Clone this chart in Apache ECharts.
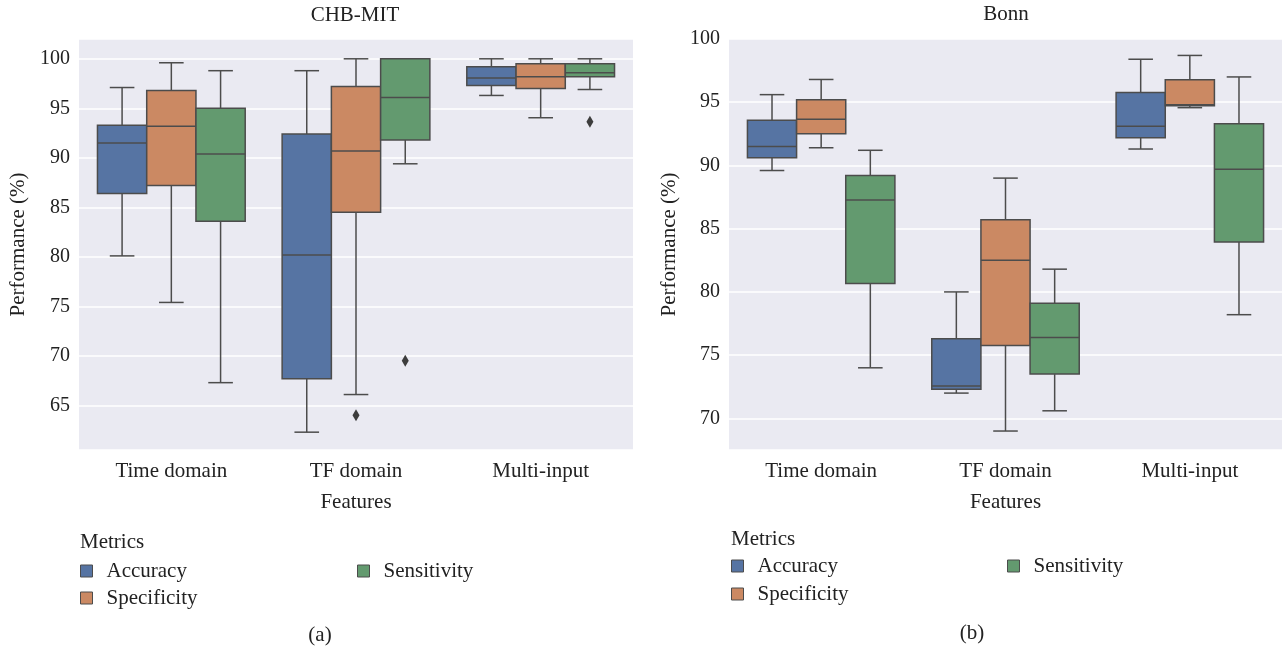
<!DOCTYPE html>
<html>
<head>
<meta charset="utf-8">
<script src="https://cdn.jsdelivr.net/npm/echarts@6/dist/echarts.min.js"></script>
<style>
  html, body { margin: 0; padding: 0; background: #fff; }
  #main { width: 1283px; height: 656px; }
</style>
</head>
<body>
<div id="main"></div>
<script>
const categories = ['Time domain', 'TF domain', 'Multi-input']
const metrics = ['Accuracy', 'Specificity', 'Sensitivity']
const colors = ['#5674a3', '#cb8963', '#639a6f']

// [lower whisker, Q1, median, Q3, upper whisker] for each category
const chbAccuracy = [[80.1, 86.4, 91.5, 93.3, 97.1], [62.3, 67.7, 80.2, 92.4, 98.8], [96.3, 97.3, 98.05, 99.2, 100]]
const chbSpecificity = [[75.4, 87.2, 93.2, 96.8, 99.6], [66.1, 84.5, 90.7, 97.2, 100], [94.05, 97.0, 98.2, 99.5, 100]]
const chbSensitivity = [[67.3, 83.6, 90.4, 95.0, 98.8], [89.4, 91.8, 96.1, 100, 100], [96.9, 98.2, 98.6, 99.5, 100]]
// [category index, value]
const chbAccuracyOut = []
const chbSpecificityOut = [[1, 64.0]]
const chbSensitivityOut = [[1, 69.5], [2, 93.65]]

const bonnAccuracy = [[89.6, 90.6, 91.5, 93.57, 95.6], [72.0, 72.3, 72.56, 76.3, 80.0], [91.3, 92.2, 93.1, 95.76, 98.4]]
const bonnSpecificity = [[91.4, 92.5, 93.65, 95.2, 96.8], [69.0, 75.76, 82.5, 85.7, 89.0], [94.57, 94.73, 94.8, 96.77, 98.7]]
const bonnSensitivity = [[74.0, 80.67, 87.26, 89.2, 91.2], [70.6, 73.5, 76.4, 79.1, 81.8], [78.2, 83.94, 89.7, 93.3, 97.0]]

const font = 'Liberation Serif'
const ink = '#222'
const edge = '#4c4c4c'

const chart = echarts.init(document.getElementById('main'))

// seaborn style: 3 boxes share 80% of the band
function boxRenderer (m) {
  return function (params, api) {
    const cat = api.value(0)
    const w = api.size([1, 0])[0] * 0.8 / 3
    const cx = api.coord([cat, 0])[0] + (m - 1) * w
    const y = i => api.coord([cat, api.value(i)])[1]
    const lo = y(1), q1 = y(2), med = y(3), q3 = y(4), hi = y(5)
    const line = (x1, y1, x2, y2) => ({
      type: 'line', shape: { x1, y1, x2, y2 }, style: { stroke: edge, lineWidth: 1.5 }
    })
    return {
      type: 'group',
      children: [
        line(cx, q1, cx, lo),
        line(cx, q3, cx, hi),
        line(cx - w / 4, lo, cx + w / 4, lo),
        line(cx - w / 4, hi, cx + w / 4, hi),
        { type: 'rect', shape: { x: cx - w / 2, y: q3, width: w, height: q1 - q3 },
          style: { fill: colors[m], stroke: edge, lineWidth: 1.5 } },
        line(cx - w / 2, med, cx + w / 2, med)
      ]
    }
  }
}

function outlierRenderer (m) {
  return function (params, api) {
    const w = api.size([1, 0])[0] * 0.8 / 3
    const p = api.coord([api.value(0), api.value(1)])
    const cx = p[0] + (m - 1) * w
    const cy = p[1]
    return {
      type: 'polygon',
      shape: { points: [[cx, cy - 6], [cx + 3.5, cy], [cx, cy + 6], [cx - 3.5, cy]] },
      style: { fill: '#3d3d3d' }
    }
  }
}

function boxSeries (m, rows, gi) {
  return {
    type: 'custom',
    name: metrics[m],
    xAxisIndex: gi,
    yAxisIndex: gi,
    itemStyle: { color: colors[m] },
    renderItem: boxRenderer(m),
    encode: { x: 0, y: [1, 2, 3, 4, 5] },
    data: rows.map((r, i) => [i].concat(r))
  }
}

function outlierSeries (m, pts, gi) {
  return {
    type: 'custom',
    name: metrics[m],
    xAxisIndex: gi,
    yAxisIndex: gi,
    itemStyle: { color: colors[m] },
    renderItem: outlierRenderer(m),
    encode: { x: 0, y: 1 },
    data: pts
  }
}

const textBase = { fontFamily: font, fontSize: 21, color: ink, fontWeight: 'normal' }
const tickText = { fontFamily: font, fontSize: 20, color: ink }

function xAxis (gi) {
  return {
    type: 'category',
    gridIndex: gi,
    data: categories,
    axisLine: { show: false },
    axisTick: { show: false },
    axisLabel: Object.assign({ margin: 11 }, textBase),
    name: 'Features',
    nameLocation: 'middle',
    nameGap: 42,
    nameTextStyle: textBase
  }
}

function yAxis (gi, min, max, split, gap, showMax) {
  return {
    type: 'value',
    gridIndex: gi,
    min: min,
    max: max,
    splitNumber: split,
    axisLine: { show: false },
    axisTick: { show: false },
    axisLabel: Object.assign({ margin: 9, showMinLabel: false, showMaxLabel: showMax }, tickText),
    splitLine: { lineStyle: { color: '#fff', width: 1.5 } },
    name: 'Performance (%)',
    nameLocation: 'middle',
    nameGap: gap,
    nameTextStyle: textBase
  }
}

function legend (name, left, top) {
  return {
    data: [name],
    left: left,
    top: top,
    padding: 0,
    icon: 'rect',
    itemWidth: 12,
    itemHeight: 12,
    itemGap: 0,
    itemStyle: { borderColor: edge, borderWidth: 1 },
    textStyle: Object.assign({ lineHeight: 22, padding: [0, 0, 0, 9] }, textBase)
  }
}

function label (text, left, top, align) {
  return { text: text, left: left, top: top, padding: 0, textAlign: align, textStyle: textBase }
}

const option = {
  color: colors,
  animation: false,
  title: [
    label('CHB-MIT', 355, 5, 'center'),
    label('Bonn', 1006, 4, 'center'),
    label('Metrics', 80, 532, 'left'),
    label('Metrics', 731, 529, 'left'),
    label('(a)', 320, 625, 'center'),
    label('(b)', 972, 623, 'center')
  ],
  legend: [
    legend('Accuracy', 80, 560),
    legend('Specificity', 80, 587),
    legend('Sensitivity', 357, 560),
    legend('Accuracy', 731, 555),
    legend('Specificity', 731, 583),
    legend('Sensitivity', 1007, 555)
  ],
  grid: [
    { left: 79, right: 650, top: 39, bottom: 206, show: true, backgroundColor: '#eaeaf2', borderWidth: 0 },
    { left: 729, right: 1, top: 39, bottom: 206, show: true, backgroundColor: '#eaeaf2', borderWidth: 0 }
  ],
  xAxis: [xAxis(0), xAxis(1)],
  yAxis: [yAxis(0, 60.5, 102, 8, 50, false), yAxis(1, 67.5, 100, 6, 49, true)],
  series: [
    boxSeries(0, chbAccuracy, 0),
    boxSeries(1, chbSpecificity, 0),
    boxSeries(2, chbSensitivity, 0),
    outlierSeries(0, chbAccuracyOut, 0),
    outlierSeries(1, chbSpecificityOut, 0),
    outlierSeries(2, chbSensitivityOut, 0),
    boxSeries(0, bonnAccuracy, 1),
    boxSeries(1, bonnSpecificity, 1),
    boxSeries(2, bonnSensitivity, 1)
  ]
}
chart.setOption(option)
</script>
</body>
</html>
